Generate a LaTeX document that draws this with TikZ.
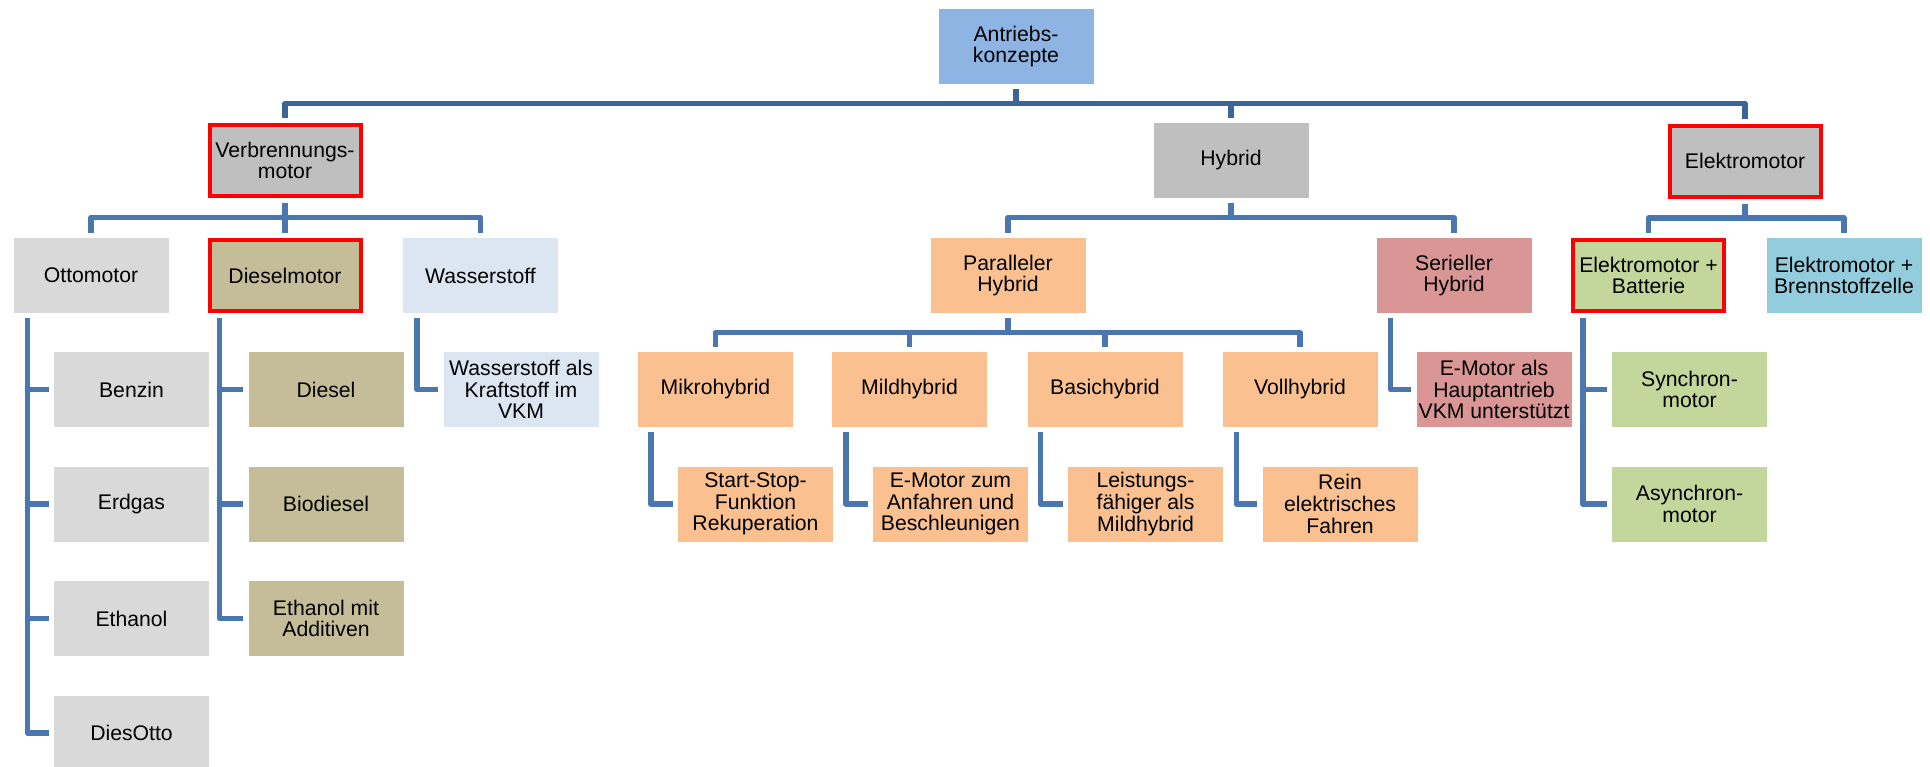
\documentclass[tikz,border=0pt]{standalone}
\usepackage{fontspec}
\setmainfont{Liberation Sans}
\usepackage{xcolor}
\usepackage{tikz}
\definecolor{cfroot}{HTML}{8EB4E3}
\definecolor{cfmain}{HTML}{BFBFBF}
\definecolor{cfotto}{HTML}{D9D9D9}
\definecolor{cfdiesel}{HTML}{C4BD97}
\definecolor{cfwater}{HTML}{DCE6F2}
\definecolor{cfpar}{HTML}{FAC090}
\definecolor{cfser}{HTML}{D99694}
\definecolor{cfbat}{HTML}{C3D69B}
\definecolor{cffuel}{HTML}{93CDDD}
\definecolor{cfline}{HTML}{4A77B0}
\definecolor{cflinedark}{HTML}{3C6597}
\newcommand{\boxfont}{\fontsize{21.2}{21.7}\selectfont}

\begin{document}
\begin{tikzpicture}[x=1pt, y=-1pt,
  box/.style={minimum width=155pt, minimum height=75pt, inner sep=1pt, align=center, font=\boxfont},
  hl/.style={draw=red, line width=4pt, minimum width=151pt, minimum height=71pt},
  topline/.style={draw=cflinedark, line width=5.5pt, line join=round, shorten <=5pt, shorten >=5pt},
  bus/.style={topline, draw=cfline},
  hbus/.style={to path={-- ++(0,19.5) -| (\tikztotarget)}}]
  \useasboundingbox (0,0) rectangle (1930,766);

  \node[box, fill=cfroot] (root) at (1016,46.5) {Antriebs-\\konzepte};

  \node[box, hl, fill=cfmain] (verb) at (285,160.5) {Verbrennungs-\\motor};
  \node[box, fill=cfmain] (hyb) at (1231,160.5) {Hybrid};
  \node[box, hl, fill=cfmain] (elek) at (1745,161) {Elektromotor};

  \node[box, fill=cfotto] (otto) at (91,275.5) {Ottomotor};
  \node[box, hl, fill=cfdiesel] (diesm) at (285,275.5) {Dieselmotor};
  \node[box, fill=cfwater] (wass) at (480.5,275.5) {Wasserstoff};
  \node[box, fill=cfpar] (par) at (1008,275.5) {Paralleler\\Hybrid};
  \node[box, fill=cfser] (ser) at (1454,275.5) {Serieller\\Hybrid};
  \node[box, hl, fill=cfbat] (ebat) at (1648.5,275.5) {Elektromotor +\\Batterie};
  \node[box, fill=cffuel] (ebrz) at (1844,275.5) {Elektromotor +\\Brennstoffzelle};

  \node[box, fill=cfotto] (benz) at (131.5,389.5) {Benzin};
  \node[box, fill=cfotto] (erdg) at (131.5,504) {Erdgas};
  \node[box, fill=cfotto] (ethn) at (131.5,618.5) {Ethanol};
  \node[box, fill=cfotto] (dott) at (131.5,733) {DiesOtto};

  \node[box, fill=cfdiesel] (dsl) at (326,389.5) {Diesel};
  \node[box, fill=cfdiesel] (biod) at (326,504) {Biodiesel};
  \node[box, fill=cfdiesel] (ethadd) at (326,618.5) {Ethanol mit\\Additiven};

  \node[box, fill=cfwater] (wkvk) at (521,389.5) {Wasserstoff als\\Kraftstoff im\\VKM};

  \node[box, fill=cfpar] (mikro) at (715.5,389.5) {Mikrohybrid};
  \node[box, fill=cfpar] (mild) at (909.5,389.5) {Mildhybrid};
  \node[box, fill=cfpar] (basic) at (1105,389.5) {Basichybrid};
  \node[box, fill=cfpar] (voll) at (1300,389.5) {Vollhybrid};

  \node[box, fill=cfpar] (ssf) at (755.5,504) {Start-Stop-\\Funktion\\Rekuperation};
  \node[box, fill=cfpar] (emaz) at (950.5,504) {E-Motor zum\\Anfahren und\\Beschleunigen};
  \node[box, fill=cfpar] (leist) at (1145.5,504) {Leistungs-\\fähiger als\\Mildhybrid};
  \node[box, fill=cfpar] (rein) at (1340,504) {Rein\\elektrisches\\Fahren};

  \node[box, fill=cfser] (emha) at (1494,389.5) {E-Motor als\\Hauptantrieb\\VKM unterstützt};

  \node[box, fill=cfbat] (sync) at (1689.5,389.5) {Synchron-\\motor};
  \node[box, fill=cfbat] (async) at (1689.5,504) {Asynchron-\\motor};

  \foreach \c in {verb,hyb,elek}
    \draw[topline] (root.south) to[hbus] (\c.north);
  \foreach \c in {otto,diesm,wass}
    \draw[bus] (verb.south) to[hbus] (\c.north);
  \foreach \c in {par,ser}
    \draw[bus] (hyb.south) to[hbus] (\c.north);
  \foreach \c in {ebat,ebrz}
    \draw[bus] (elek.south) to[hbus] (\c.north);
  \foreach \c in {mikro,mild,basic,voll}
    \draw[bus] (par.south) to[hbus] (\c.north);

  \foreach \c in {benz,erdg,ethn,dott}
    \draw[bus] ([xshift=14pt]otto.south west) |- (\c.west);
  \foreach \c in {dsl,biod,ethadd}
    \draw[bus] ([xshift=12pt]diesm.south west) |- (\c.west);
  \draw[bus] ([xshift=14pt]wass.south west) |- (wkvk.west);
  \draw[bus] ([xshift=13pt]mikro.south west) |- (ssf.west);
  \draw[bus] ([xshift=14pt]mild.south west) |- (emaz.west);
  \draw[bus] ([xshift=13pt]basic.south west) |- (leist.west);
  \draw[bus] ([xshift=14pt]voll.south west) |- (rein.west);
  \draw[bus] ([xshift=14pt]ser.south west) |- (emha.west);
  \foreach \c in {sync,async}
    \draw[bus] ([xshift=12pt]ebat.south west) |- (\c.west);
\end{tikzpicture}
\end{document}
